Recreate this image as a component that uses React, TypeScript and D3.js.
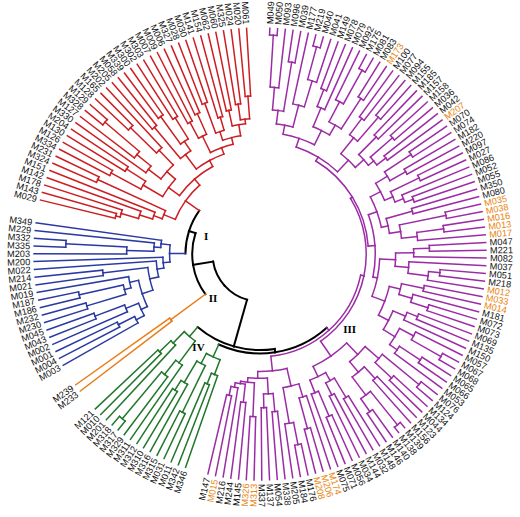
import React, { useMemo } from "react";
import * as d3 from "d3";

// ---------------- DATA ----------------
// Each internal node: [child, child, similarity]; leaves are isolate names.
const redTree = [
  [[[[["M029", "M143", 0.66], "M178", 0.64], "M142", 0.56], "M151", 0.5], ["M324", "M231", 0.79], 0.46],
  [
    [[["M334", "M126", 0.75], ["M130", "M204", 0.7], 0.6], [["M330", ["M127", ["M328", "M129", 0.9], 0.7], 0.62], [["M128", "M165", 0.8], "M202", 0.64], 0.55], 0.5],
    [[["M205", "M058", 0.73], [["M339", "M300", 0.75], ["M302", "M303", 0.71], 0.6], 0.55], [[["M007", "M009", 0.66], ["M006", "M327", 0.68], 0.58], [[["M028", "M030", 0.71], ["M141", "M154", 0.63], 0.57], [["M062", "M060", 0.65], [["M325", "M024", 0.67], ["M020", "M061", 0.7], 0.6], 0.58], 0.53], 0.5], 0.47],
    0.44,
  ],
  0.405,
];

const blueTree = [
  [[[[[["M003", ["M004", "M001", 0.7], 0.62], ["M002", ["M043", "M045", 0.78], 0.64], 0.58], [[["M230", "M232", 0.8], ["M186", "M187", 0.82], 0.62], "M019", 0.59], 0.55], ["M021", "M214", 0.7], 0.5], "M022", 0.46], "M200", 0.43],
  [[["M203", ["M335", "M332", 0.86], 0.59], "M229", 0.47], "M349", 0.44],
  0.4,
];

const orangeTree = ["M233", "M239", 0.49];

const greenTreeB = [["M346", ["M342", "M011", 0.62], 0.57], [["M031", "M315", 0.78], ["M316", ["M310", "M312", 0.71], 0.66], 0.55], 0.5];
const greenTreeA = [["M311", ["M329", ["M317", "M318", 0.95], 0.68], 0.6], ["M201", ["M010", "M121", 0.62], 0.55], 0.48];

const purpleA = [
  [[[["M049", "M050", 0.97], "M093", 0.74], ["M096", "M039", 0.86], 0.64], ["M177", [["M219", "M040", 0.95], "M041", 0.8], 0.68], 0.58],
  [[["M149", "M078", 0.78], "M079", 0.7], [["M092", ["M175", "M081", 0.93], 0.76], ["M083", "M173", 0.82], 0.66], 0.61],
  0.54,
];
const purpleB = [[["M100", "M077", 0.75], ["M094", "M155", 0.8], 0.66], [["M185", "M157", 0.73], [["M158", "M036", 0.78], ["M042", "M207", 0.7], 0.65], 0.62], 0.57];
const purpleC = [
  [[["M070", "M074", 0.8], ["M182", "M220", 0.74], 0.66], [["M097", "M027", 0.78], ["M086", ["M052", "M055", 0.72], 0.68], 0.64], 0.6],
  [["M350", "M080", 0.7], [["M035", "M038", 0.84], [["M016", "M013", 0.82], "M017", 0.7], 0.63], 0.58],
  0.55,
];
const purpleD = [
  [[["M047", "M221", 0.75], "M082", 0.68], ["M037", [["M051", "M218", 0.8], "M012", 0.75], 0.66], 0.6],
  [[["M033", "M014", 0.74], ["M181", ["M072", "M073", 0.78], 0.7], 0.64], [[["M069", "M135", 0.75], "M150", 0.7], [["M057", ["M067", "M068", 0.92], 0.77], [["M065", "M066", 0.85], "M053", 0.74], 0.7], 0.64], 0.59],
  0.53,
];
const purpleE = [
  [[["M076", "M124", 0.91], ["M134", "M044", 0.8], 0.7], [["M123", "M156", 0.75], [["M139", "M138", 0.97], ["M140", "M146", 0.85], 0.78], 0.68], 0.62],
  [[["M148", "M032", 0.74], ["M144", "M034", 0.7], 0.64], [["M056", "M071", 0.78], "M075", 0.66], 0.6],
  0.55,
];
const purpleF = [
  [["M174", ["M206", "M208", 0.8], 0.66], [["M176", "M184", 0.86], "M205", 0.76], 0.6],
  [[["M338", "M054", 0.7], ["M137", "M337", 0.68], 0.62], [["M313", "M326", 0.72], [["M145", "M244", 0.66], ["M216", ["M015", "M147", 0.64], 0.6], 0.58], 0.57], 0.55],
  0.52,
];
const purpleTree = [[[[purpleA, purpleB, 0.5], [purpleC, purpleD, 0.51], 0.48], purpleE, 0.47], purpleF, 0.455];

// backbone joining the groups
const backboneNodes = [
  { id: "root", children: ["X", "W"], s: 0.21 },
  { id: "X", children: ["Y", "greenA"], s: 0.425 },
  { id: "Y", children: ["purple", "greenB"], s: 0.44 },
  { id: "W", children: ["orange", "I"], s: 0.3 },
  { id: "I", children: ["blue", "red"], s: 0.33 },
];

const subtrees: Record<string, any> = {
  red: redTree,
  blue: blueTree,
  orange: orangeTree,
  greenA: greenTreeA,
  greenB: greenTreeB,
  purple: purpleTree,
};
const subtreeGroup: Record<string, string> = {
  red: "red", blue: "blue", orange: "orange", greenA: "green", greenB: "green", purple: "purple",
};
const groupColors: Record<string, string> = {
  red: "#cc1f24",
  blue: "#2a3aa2",
  orange: "#ea7d18",
  purple: "#9c2ca6",
  green: "#21772b",
};
const highlighted = ["M173", "M207", "M035", "M038", "M016", "M013", "M017", "M012", "M033", "M014", "M174", "M206", "M208", "M313", "M326", "M015"];

const romanLabels = [
  { text: "I", anchor: "I", dr: -18, da: 0 },
  { text: "II", anchor: "orange", dr: -46, da: -7 },
  { text: "III", anchor: "purple", dr: 14, da: -8 },
  { text: "IV", anchor: "greenA", dr: 3, da: -7 },
];

// ---------------- LAYOUT ----------------
const W = 520, H = 517, CX = 260, CY = 254, R = 226;
const START_ANGLE = 2.5, GROUP_GAP = 3, LABEL_OFFSET = 4;

interface TNode { name?: string; id?: string; s: number; group: string | null; children?: TNode[]; }

function buildSub(x: any, group: string): TNode {
  if (typeof x === "string") return { name: x, s: 1, group };
  const s = x[x.length - 1] as number;
  return { s, group, children: x.slice(0, -1).map((c: any) => buildSub(c, group)) };
}
function buildTree(id: string): TNode {
  if (subtrees[id]) {
    const n = buildSub(subtrees[id], subtreeGroup[id]);
    n.id = id;
    return n;
  }
  const b = backboneNodes.find((d) => d.id === id)!;
  return { id, s: b.s, group: null, children: b.children.map(buildTree) };
}

export default function App() {
  const { links, leaves, romans } = useMemo(() => {
    const root = d3.hierarchy<TNode>(buildTree("root"));
    const lv = root.leaves();
    const slots: number[] = [];
    let slot = 0;
    lv.forEach((l, i) => {
      if (i > 0) slot += l.data.group !== lv[i - 1].data.group ? GROUP_GAP : 1;
      slots.push(slot);
    });
    const total = slot + GROUP_GAP;
    const angle = d3.scaleLinear().domain([0, total]).range([START_ANGLE, START_ANGLE + 360]);
    const radius = d3.scaleLinear().domain([0, 1]).range([0, R]);
    const A = new Map<any, number>();
    lv.forEach((l, i) => A.set(l, angle(slots[i])));
    root.eachAfter((n) => {
      if (n.children) {
        const f = A.get(n.children[0])!, l = A.get(n.children[n.children.length - 1])!;
        A.set(n, (f + l) / 2);
      }
    });
    const pt = (a: number, r: number) => {
      const t = (a * Math.PI) / 180;
      return [CX + r * Math.sin(t), CY - r * Math.cos(t)];
    };
    const colorOf = (n: d3.HierarchyNode<TNode>) => (n.data.group ? groupColors[n.data.group] : "#000");
    const links: { d: string; color: string; w: number }[] = [];
    root.descendants().forEach((p) => {
      if (!p.children) return;
      const pa = A.get(p)!, pr = radius(p.data.s);
      p.children.forEach((c) => {
        const ca = A.get(c)!, cr = radius(c.data.s);
        const [x0, y0] = pt(pa, pr);
        const [x1, y1] = pt(ca, pr);
        const [x2, y2] = pt(ca, cr);
        links.push({ d: `M${x0},${y0}A${pr},${pr} 0 0 ${ca > pa ? 1 : 0} ${x1},${y1}`, color: colorOf(p), w: p.data.group ? 1.5 : 2 });
        links.push({ d: `M${x1},${y1}L${x2},${y2}`, color: colorOf(c), w: c.data.group ? 1.5 : 2 });
      });
    });
    const leaves = lv.map((l) => ({ name: l.data.name!, a: A.get(l)!, r: radius(1) + LABEL_OFFSET }));
    const romans = romanLabels.map((rl) => {
      const n = root.descendants().find((d) => d.data.id === rl.anchor)!;
      const [x, y] = pt(A.get(n)! + rl.da, radius(n.data.s) + rl.dr);
      return { text: rl.text, x, y };
    });
    return { links, leaves, romans };
  }, []);

  return (
    <svg width={W} height={H} style={{ position: "absolute", left: 0, top: 0, background: "#fff" }}>
      <g fill="none" strokeLinecap="square">
        {links.map((l, i) => (
          <path key={i} d={l.d} stroke={l.color} strokeWidth={l.w} />
        ))}
      </g>
      <g transform={`translate(${CX},${CY})`} fontFamily="'Liberation Sans', Arial, sans-serif" fontSize={9.2}>
        {leaves.map((l) => (
          <text
            key={l.name}
            transform={`rotate(${l.a - 90}) translate(${l.r},0)${l.a > 180 ? " rotate(180)" : ""}`}
            textAnchor={l.a > 180 ? "end" : "start"}
            dy="0.35em"
            fill={highlighted.includes(l.name) ? "#e8850e" : "#111"}
          >
            {l.name}
          </text>
        ))}
      </g>
      <g fontFamily="'Liberation Serif', 'Times New Roman', serif" fontSize={11} fontWeight="bold">
        {romans.map((r) => (
          <text key={r.text} x={r.x} y={r.y} textAnchor="middle" dy="0.35em">
            {r.text}
          </text>
        ))}
      </g>
    </svg>
  );
}
